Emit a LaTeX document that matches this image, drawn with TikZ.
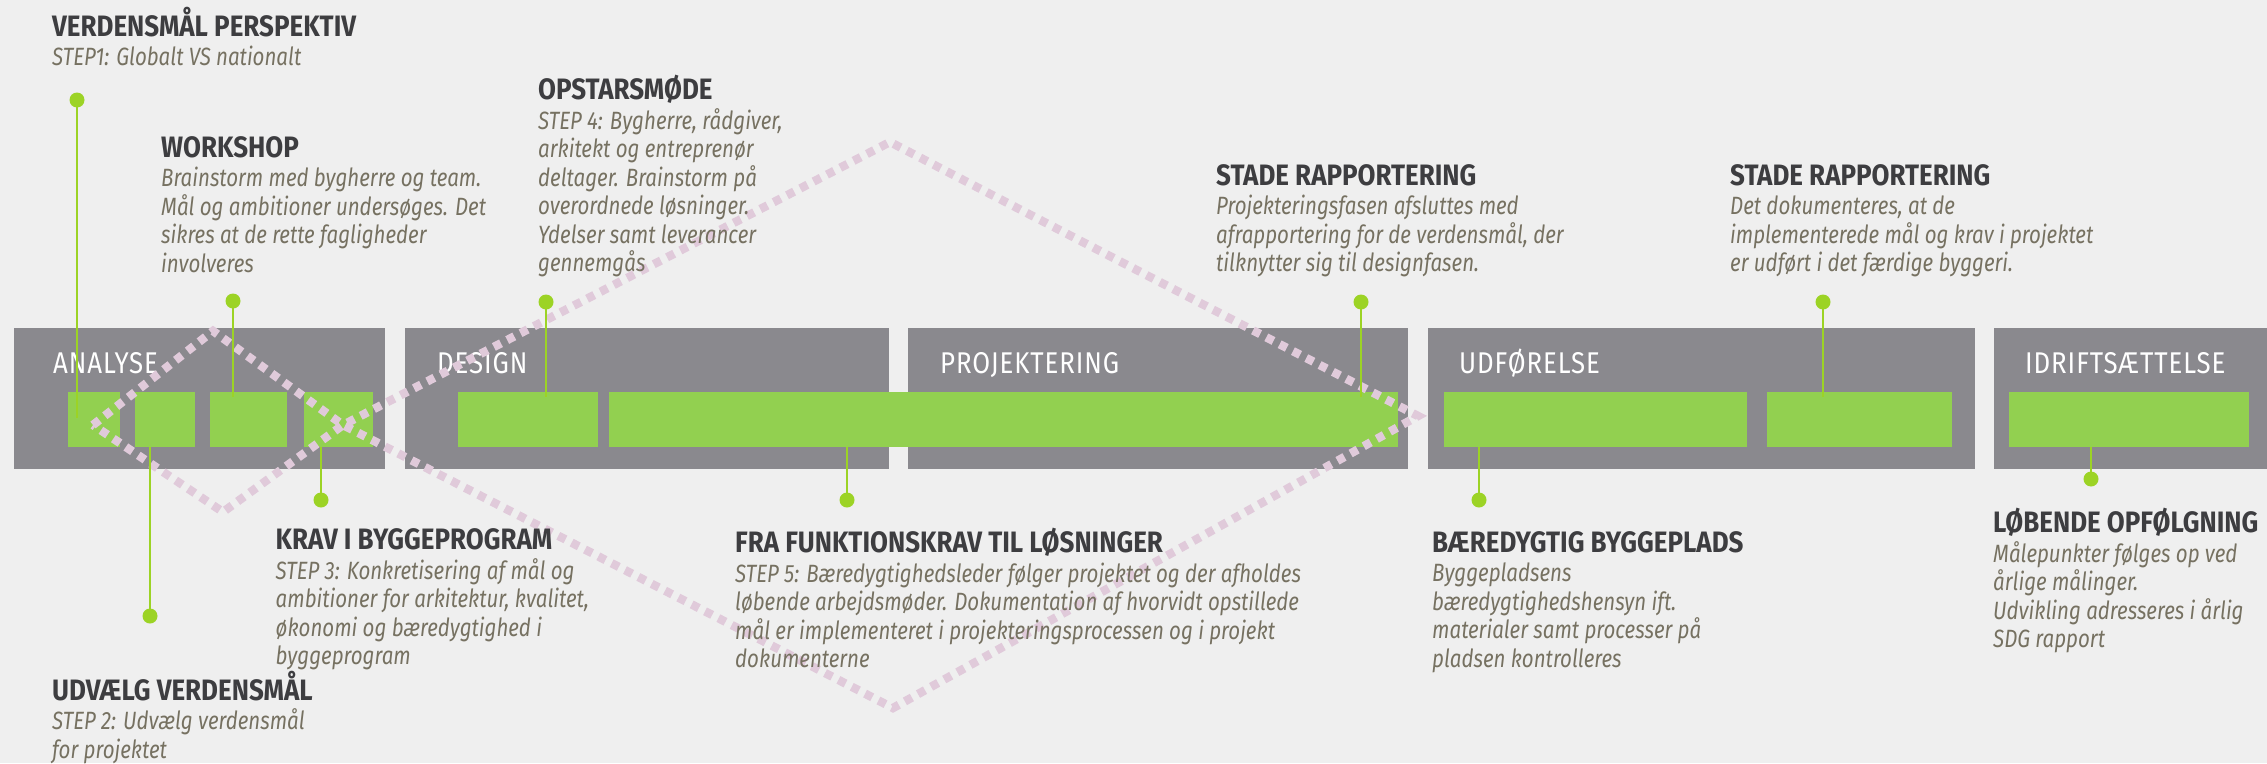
\documentclass[tikz,border=0pt]{standalone}
\usepackage{fontspec}
\setmainfont{Fira Sans}
\newfontfamily\headfont[FakeStretch=0.88]{Fira Sans}
\newfontfamily\bodyfont[FakeStretch=0.82]{Fira Sans}
\newfontfamily\labelfont[FakeStretch=0.86,LetterSpace=3]{Fira Sans}
\definecolor{bg}{HTML}{EFEFEF}
\definecolor{boxgray}{HTML}{8A898E}
\definecolor{bargreen}{HTML}{92D050}
\definecolor{conngreen}{HTML}{9CD325}
\definecolor{headcol}{HTML}{3D3D40}
\definecolor{bodycol}{HTML}{767161}
\definecolor{pinkdot}{HTML}{E0CADA}
\tikzset{
 phase/.style={fill=boxgray, inner sep=0pt, outer sep=0pt, anchor=north west, minimum height=141pt},
 bar/.style={fill=bargreen, inner sep=0pt, outer sep=0pt, anchor=north west, minimum height=55pt},
 plabel/.style={text=white, font=\labelfont\fontsize{30}{30}\selectfont, inner sep=0pt, anchor=base west},
 head/.style={text=headcol, font=\headfont\bfseries\fontsize{29.5}{30}\selectfont, inner sep=0pt, anchor=base west},
 body/.style={text=bodycol, font=\bodyfont\itshape\fontsize{25}{28}\selectfont, inner sep=0pt, anchor=base west},
 dot/.style={circle, fill=conngreen, inner sep=0pt, outer sep=0pt, minimum size=15pt},
 conn/.style={draw=conngreen, line width=2.2pt},
 loopline/.style={draw=pinkdot, line width=8.5pt, dash pattern=on 8pt off 7pt},
}
\newcommand\tblock[5]{%
  \node[head] (#1) at (#2,#3) {#4};
  \foreach \t [count=\i from 0] in {#5}
    \node[body] (#1-\i) at (#2,#3+29.5+\i*28.5) {\t};
}
\begin{document}
\begin{tikzpicture}[x=1pt,y=-1pt]
\fill[bg] (0,0) rectangle (2267,763);
\useasboundingbox (0,0) rectangle (2267,763);
% phases
\node[phase, minimum width=371pt] (analyse) at (14,328) {};
\node[phase, minimum width=484pt] (design) at (405,328) {};
\node[phase, minimum width=500pt] (projekt) at (908,328) {};
\node[phase, minimum width=547pt] (udf) at (1428,328) {};
\node[phase, minimum width=273pt] (idrift) at (1994,328) {};
\node[plabel] (l1) at (53,373) {ANALYSE};
\node[plabel] (l2) at (437,373) {DESIGN};
\node[plabel] (l3) at (940,373) {PROJEKTERING};
\node[plabel] (l4) at (1459,373) {UDFØRELSE};
\node[plabel] (l5) at (2025,373) {IDRIFTSÆTTELSE};
% green bars
\node[bar, minimum width=52pt] (g1) at (68,392) {};
\node[bar, minimum width=60pt] (g2) at (135,392) {};
\node[bar, minimum width=77pt] (g3) at (210,392) {};
\node[bar, minimum width=69pt] (g4) at (304,392) {};
\node[bar, minimum width=140pt] (g5) at (458,392) {};
\node[bar, minimum width=789pt] (g6) at (609,392) {};
\node[bar, minimum width=303pt] (g7) at (1444,392) {};
\node[bar, minimum width=185pt] (g8) at (1767,392) {};
\node[bar, minimum width=240pt] (g9) at (2009,392) {};
% pink loop
\draw[loopline] (93,425) -- (213,331) -- (343,425) -- (893,708) -- (1418,416) -- (890,142) -- (343,425) -- (223,512) -- cycle;
% connectors
\node[dot] (d1) at (77,100) {};
\node[dot] (d2) at (233,301) {};
\node[dot] (d3) at (546,302) {};
\node[dot] (d4) at (150,616) {};
\node[dot] (d5) at (321,500) {};
\node[dot] (d6) at (847,500) {};
\node[dot] (d7) at (1361,302) {};
\node[dot] (d8) at (1823,302) {};
\node[dot] (d9) at (1479,500) {};
\node[dot] (d10) at (2091,479) {};
\coordinate (e1) at (77,418);
\coordinate (e2) at (233,397);
\coordinate (e3) at (546,397);
\coordinate (e4) at (150,447);
\coordinate (e5) at (321,447);
\coordinate (e6) at (847,447);
\coordinate (e7) at (1361,397);
\coordinate (e8) at (1823,397);
\coordinate (e9) at (1479,447);
\coordinate (e10) at (2091,447);
\foreach \k in {1,...,10} \draw[conn] (d\k.center) -- (e\k);
% texts
\tblock{t1}{52}{36}{VERDENSMÅL PERSPEKTIV}{{STEP1: Globalt VS nationalt}}
\tblock{t2}{161}{157}{WORKSHOP}{{Brainstorm med bygherre og team.},{Mål og ambitioner undersøges. Det},{sikres at de rette fagligheder},{involveres}}
\tblock{t3}{538}{99.5}{OPSTARSMØDE}{{STEP 4: Bygherre, rådgiver,},{arkitekt og entreprenør},{deltager. Brainstorm på},{overordnede løsninger.},{Ydelser samt leverancer},{gennemgås}}
\tblock{t4}{1216}{185}{STADE RAPPORTERING}{{Projekteringsfasen afsluttes med},{afrapportering for de verdensmål, der},{tilknytter sig til designfasen.}}
\tblock{t5}{1730}{185}{STADE RAPPORTERING}{{Det dokumenteres, at de},{implementerede mål og krav i projektet},{er udført i det færdige byggeri.}}
\tblock{t6}{275.5}{549.5}{KRAV I BYGGEPROGRAM}{{STEP 3: Konkretisering af mål og},{ambitioner for arkitektur, kvalitet,},{økonomi og bæredygtighed i},{byggeprogram}}
\tblock{t7}{52}{700}{UDVÆLG VERDENSMÅL}{{STEP 2: Udvælg verdensmål},{for projektet}}
\tblock{t8}{735}{552.5}{FRA FUNKTIONSKRAV TIL LØSNINGER}{{STEP 5: Bæredygtighedsleder følger projektet og der afholdes},{løbende arbejdsmøder. Dokumentation af hvorvidt opstillede},{mål er implementeret i projekteringsprocessen og i projekt},{dokumenterne}}
\tblock{t9}{1432}{552}{BÆREDYGTIG BYGGEPLADS}{{Byggepladsens},{bæredygtighedshensyn ift.},{materialer samt processer på},{pladsen kontrolleres}}
\tblock{t10}{1993}{532.5}{LØBENDE OPFØLGNING}{{Målepunkter følges op ved},{årlige målinger.},{Udvikling adresseres i årlig},{SDG rapport}}
\end{tikzpicture}
\end{document}
